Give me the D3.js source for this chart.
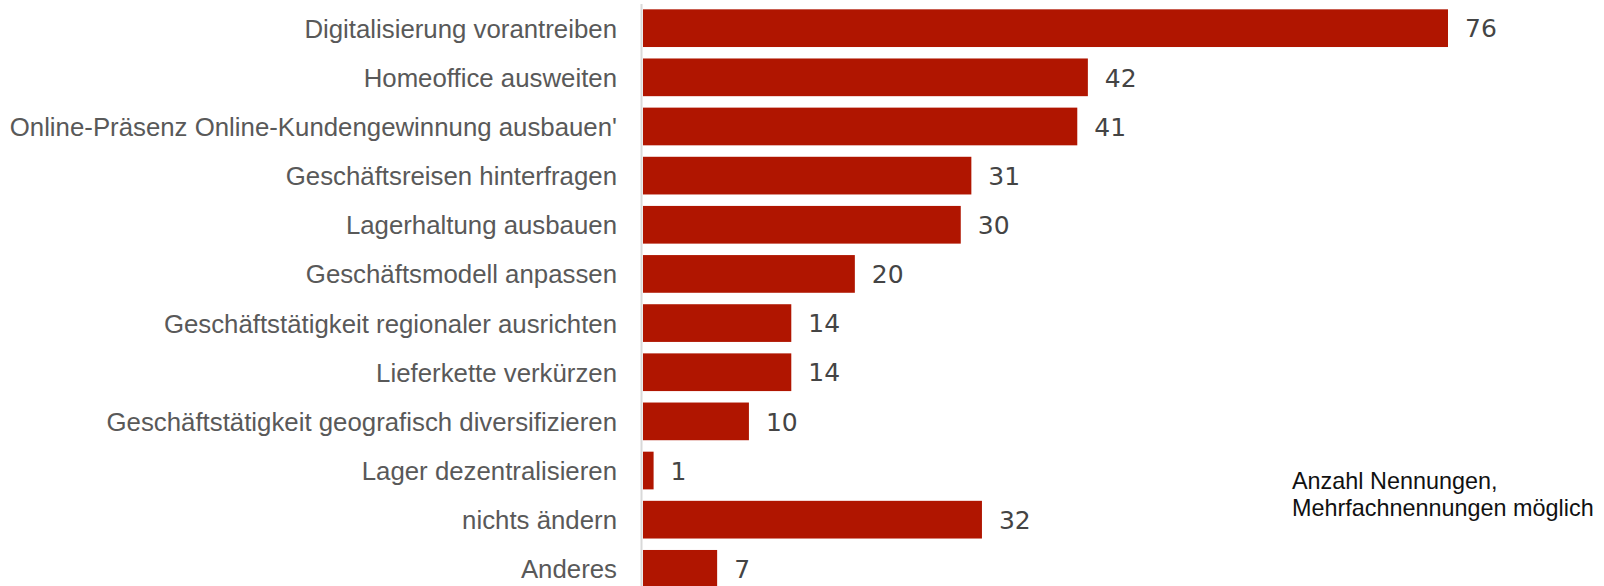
<!DOCTYPE html>
<html>
<head>
<meta charset="utf-8">
<script src="https://cdn.jsdelivr.net/npm/d3@7"></script>
<style>
  html, body { margin: 0; padding: 0; background: #fff; }
  svg { display: block; }
</style>
</head>
<body>
<svg id="chart" width="1604" height="586"></svg>
<script>
// Maßnahmen und Anzahl der Nennungen
const categories = [
  "Digitalisierung vorantreiben",
  "Homeoffice ausweiten",
  "Online-Präsenz Online-Kundengewinnung ausbauen'",
  "Geschäftsreisen hinterfragen",
  "Lagerhaltung ausbauen",
  "Geschäftsmodell anpassen",
  "Geschäftstätigkeit regionaler ausrichten",
  "Lieferkette verkürzen",
  "Geschäftstätigkeit geografisch diversifizieren",
  "Lager dezentralisieren",
  "nichts ändern",
  "Anderes"
];
const values = [76, 42, 41, 31, 30, 20, 14, 14, 10, 1, 32, 7];
const noteLines = ["Anzahl Nennungen,", "Mehrfachnennungen möglich"];

const svg = d3.select("#chart");

const x = d3.scaleLinear().domain([0, 76]).range([643, 1448]);
const y = d3.scaleBand()
  .domain(categories)
  .range([3.6, 3.6 + 12 * 49.15])
  .paddingInner(0.233)
  .paddingOuter(0.1165);

// Grundlinie
svg.append("line")
  .attr("x1", 641.5).attr("x2", 641.5)
  .attr("y1", 4).attr("y2", 586)
  .attr("stroke", "#d9d9d9")
  .attr("stroke-width", 2);

// Balken
svg.append("g").selectAll("rect")
  .data(values)
  .join("rect")
  .attr("x", x(0))
  .attr("y", (d, i) => y(categories[i]))
  .attr("width", d => x(d) - x(0))
  .attr("height", y.bandwidth())
  .attr("fill", "#b01500");

// Kategorienbeschriftung
svg.append("g").selectAll("text")
  .data(categories)
  .join("text")
  .attr("x", 617)
  .attr("y", d => y(d) + y.bandwidth() / 2 + 9.5)
  .attr("text-anchor", "end")
  .attr("font-family", "'Liberation Sans Narrow', 'Arial Narrow', sans-serif")
  .attr("font-size", 25.8)
  .attr("fill", "#595959")
  .text(d => d);

// Werte
svg.append("g").selectAll("text")
  .data(values)
  .join("text")
  .attr("x", d => x(d) + 17)
  .attr("y", (d, i) => y(categories[i]) + y.bandwidth() / 2 + 9.2)
  .attr("font-family", "'DejaVu Sans', sans-serif")
  .attr("font-size", 25)
  .attr("fill", "#444")
  .text(d => d);

// Hinweis
svg.append("text")
  .attr("font-family", "'Liberation Sans', Arial, sans-serif")
  .attr("font-size", 23.4)
  .attr("fill", "#111")
  .selectAll("tspan")
  .data(noteLines)
  .join("tspan")
  .attr("x", 1292)
  .attr("y", (d, i) => 489 + i * 27)
  .text(d => d);
</script>
</body>
</html>
